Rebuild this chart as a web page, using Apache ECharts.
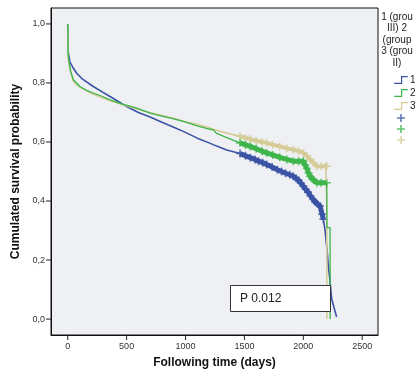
<!DOCTYPE html>
<html>
<head>
<meta charset="utf-8">
<script src="https://cdn.jsdelivr.net/npm/echarts@6/dist/echarts.min.js"></script>
<style>
  html, body { margin: 0; padding: 0; background: #fff; }
  #chart_km { width: 415px; height: 374px; }
</style>
</head>
<body>
<div id="chart_km"></div>
<script>
// tick labels
var xTicks = [0, 500, 1000, 1500, 2000, 2500];
var yTicks = [0, 0.2, 0.4, 0.6, 0.8, 1.0];

// group 1 (blue)  [day, survival]
var group1 = [
  [0, 1.0], [3, 0.91], [10, 0.89], [20, 0.87], [40, 0.855], [76, 0.833], [120, 0.815],
  [217, 0.788], [300, 0.768], [359, 0.754], [430, 0.737], [500, 0.72], [600, 0.70],
  [699, 0.685], [800, 0.667], [900, 0.65], [981, 0.636], [1100, 0.613], [1200, 0.597],
  [1265, 0.586], [1350, 0.573], [1463, 0.561], [1510, 0.553], [1550, 0.547], [1590, 0.541],
  [1620, 0.535], [1655, 0.53], [1689, 0.524], [1735, 0.515], [1780, 0.506], [1815, 0.5],
  [1850, 0.494], [1885, 0.489], [1915, 0.484], [1940, 0.476], [1960, 0.47], [1980, 0.46],
  [2000, 0.45], [2020, 0.44], [2040, 0.43], [2060, 0.418], [2085, 0.405], [2100, 0.397],
  [2120, 0.39], [2142, 0.383], [2160, 0.355], [2170, 0.338], [2185, 0.30], [2195, 0.259],
  [2205, 0.22], [2212, 0.18], [2225, 0.135], [2241, 0.068], [2260, 0.04], [2283, 0.007]
];

// group 2 (green)
var group2 = [
  [0, 1.0], [3, 0.90], [10, 0.873], [25, 0.84], [48, 0.811], [104, 0.788], [160, 0.775],
  [217, 0.766], [290, 0.755], [359, 0.743], [450, 0.73], [586, 0.715], [699, 0.698],
  [800, 0.688], [900, 0.678], [981, 0.670], [1100, 0.655], [1200, 0.644], [1240, 0.640],
  [1260, 0.630], [1350, 0.615], [1463, 0.597], [1510, 0.59], [1550, 0.585], [1600, 0.577],
  [1650, 0.569], [1689, 0.563], [1740, 0.556], [1800, 0.548], [1860, 0.541], [1915, 0.535],
  [1960, 0.535], [2000, 0.535], [2015, 0.522], [2030, 0.51], [2045, 0.495], [2057, 0.484],
  [2075, 0.476], [2090, 0.47], [2114, 0.462], [2150, 0.462], [2199, 0.462], [2200, 0.31],
  [2227, 0.31], [2228, 0.0]
];

// group 3 (tan)
var group3 = [
  [0, 1.0], [3, 0.89], [10, 0.865], [25, 0.835], [48, 0.805], [104, 0.785], [217, 0.762],
  [359, 0.74], [586, 0.712], [699, 0.700], [800, 0.69], [900, 0.68], [981, 0.670],
  [1100, 0.66], [1200, 0.648], [1265, 0.64], [1350, 0.63], [1463, 0.619], [1510, 0.614],
  [1550, 0.61], [1600, 0.604], [1650, 0.6], [1689, 0.597], [1740, 0.591], [1800, 0.585],
  [1860, 0.579], [1915, 0.574], [1960, 0.569], [2000, 0.563], [2030, 0.552], [2057, 0.541],
  [2085, 0.53], [2114, 0.518], [2150, 0.518], [2190, 0.518], [2199, 0.518], [2199.5, 0.39],
  [2200, 0.0]
];

// days where censored marks pile up
var censorRange1 = [1440, 2180];
var censorRange2 = [1440, 2199];
var censorRange3 = [1440, 2199];

// axis extents
var xMin = -142, xMax = 2634;
var yMin = -0.054, yMax = 1.054;

var colors = ["#3a53a4", "#3db54a", "#d5cc98"];
var font = "Liberation Sans, Arial, sans-serif";
var crossIcon = "path://M4,0H6V4H10V6H6V10H4V6H0V4H4Z";
var stepIcon = "path://M0,8H8V0H16V1.4H9.4V9.4H0Z";

function inRange(data, range) {
  return data.filter(function (p) {
    return p[0] >= range[0] && p[0] <= range[1];
  });
}

function lineSeries(name, data, color, width) {
  return {
    name: name,
    type: "line",
    data: data,
    showSymbol: false,
    symbol: "none",
    color: color,
    itemStyle: { color: color },
    lineStyle: { color: color, width: width },
    silent: true,
  };
}

function censorSeries(name, data, color) {
  return {
    name: name,
    type: "scatter",
    data: data,
    symbol: crossIcon,
    symbolSize: 8,
    color: color,
    itemStyle: { color: color },
    silent: true,
  };
}

// outer tick marks, placed through the axis scales
function tickSeries(name, data, dx, dy) {
  return {
    name: name,
    type: "custom",
    silent: true,
    clip: false,
    z: 5,
    data: data,
    renderItem: function (params, api) {
      var p = api.coord([api.value(0), api.value(1)]);
      return {
        type: "line",
        shape: { x1: p[0], y1: p[1], x2: p[0] + dx, y2: p[1] + dy },
        style: { stroke: "#222", lineWidth: 1 },
      };
    },
  };
}

var groups = [group1, group2, group3];
var ranges = [censorRange1, censorRange2, censorRange3];
var widths = [1.6, 1.3, 1.6];

var series = [];
// blue first, then tan, then green on top
[0, 2, 1].forEach(function (i) {
  var n = String(i + 1);
  series.push(lineSeries(n, groups[i], colors[i], widths[i]));
  series.push(lineSeries("b" + n, inRange(groups[i], ranges[i]), colors[i], i === 2 ? 4 : 5));
  series.push(censorSeries("c" + n, inRange(groups[i], ranges[i]), colors[i]));
});
series.push(tickSeries("xt", xTicks.map(function (v) { return [v, yMin]; }), 0, 5));
series.push(tickSeries("yt", yTicks.map(function (v) { return [xMin, v]; }), -5, 0));

var nameStyle = { fontSize: 12, fontWeight: "bold", color: "#111", fontFamily: font };

var myChart = echarts.init(document.getElementById("chart_km"));
var option = {
  animation: false,
  textStyle: { fontFamily: font },
  grid: {
    left: 51,
    right: 37,
    top: 8,
    bottom: 38,
    show: true,
    backgroundColor: "#eef0f3",
    borderColor: "#111",
    borderWidth: 1,
  },
  xAxis: {
    type: "value",
    min: xMin,
    max: xMax,
    name: "Following time (days)",
    nameLocation: "middle",
    nameGap: 22,
    nameTextStyle: nameStyle,
    axisLine: { show: true, onZero: false, lineStyle: { color: "#111", width: 1 } },
    splitLine: { show: false },
    axisTick: { show: false },
    axisLabel: {
      customValues: xTicks,
      fontSize: 9,
      color: "#333",
      margin: 7,
      fontFamily: font,
      formatter: function (v) {
        return String(v);
      },
    },
  },
  yAxis: {
    type: "value",
    min: yMin,
    max: yMax,
    name: "Cumulated survival probability",
    nameLocation: "middle",
    nameGap: 26,
    nameTextStyle: nameStyle,
    axisLine: { show: true, onZero: false, lineStyle: { color: "#111", width: 1 } },
    splitLine: { show: false },
    axisTick: { show: false },
    axisLabel: {
      customValues: yTicks,
      fontSize: 9,
      color: "#333",
      margin: 6,
      fontFamily: font,
      formatter: function (v) {
        return Number(v).toFixed(1).replace(".", ",");
      },
    },
  },
  legend: {
    data: [
      { name: "1", icon: stepIcon },
      { name: "2", icon: stepIcon },
      { name: "3", icon: stepIcon },
      { name: "c1", icon: crossIcon },
      { name: "c2", icon: crossIcon },
      { name: "c3", icon: crossIcon },
    ],
    orient: "vertical",
    left: 389,
    top: 70,
    itemWidth: 14,
    itemHeight: 8,
    itemGap: 3,
    selectedMode: false,
    textStyle: { fontSize: 10, color: "#222", padding: [0, 0, 0, -3] },
    formatter: function (name) {
      return name.charAt(0) === "c" ? "" : name;
    },
  },
  graphic: [
    {
      type: "text",
      x: 397,
      y: 11,
      style: {
        text: "1 (grou\nIII) 2\n(group\n3 (grou\nII)",
        font: "10px " + font,
        fill: "#222",
        align: "center",
        lineHeight: 11.5,
      },
    },
    {
      type: "rect",
      z: 100,
      shape: { x: 230.5, y: 285.5, width: 100, height: 26 },
      style: { fill: "#fff", stroke: "#333", lineWidth: 1 },
    },
    {
      type: "text",
      z: 101,
      x: 240,
      y: 298.5,
      style: {
        text: "P 0.012",
        font: "12px " + font,
        fill: "#222",
        verticalAlign: "middle",
      },
    },
  ],
  series: series,
};
myChart.setOption(option);
</script>
</body>
</html>
